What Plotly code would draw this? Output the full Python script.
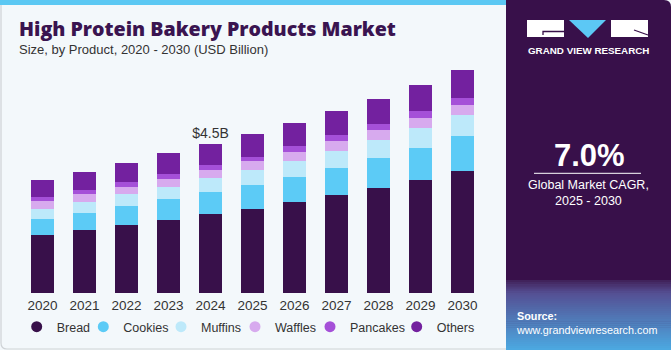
import plotly.graph_objects as go

W, H = 671, 350

years = ["2020", "2021", "2022", "2023", "2024", "2025", "2026", "2027", "2028", "2029", "2030"]
bread    = [1.75, 1.90, 2.05, 2.21, 2.38, 2.55, 2.74, 2.95, 3.18, 3.41, 3.68]
cookies  = [0.49, 0.53, 0.57, 0.62, 0.66, 0.71, 0.76, 0.83, 0.90, 0.97, 1.05]
muffins  = [0.31, 0.33, 0.37, 0.37, 0.42, 0.45, 0.48, 0.51, 0.53, 0.59, 0.63]
waffles  = [0.22, 0.22, 0.22, 0.25, 0.25, 0.26, 0.28, 0.28, 0.30, 0.30, 0.30]
pancakes = [0.12, 0.14, 0.13, 0.14, 0.15, 0.14, 0.16, 0.18, 0.18, 0.21, 0.21]
others   = [0.51, 0.54, 0.58, 0.62, 0.64, 0.68, 0.70, 0.73, 0.77, 0.80, 0.86]

series_names = ["Bread", "Cookies", "Muffins", "Waffles", "Pancakes", "Others"]
series_vals = [bread, cookies, muffins, waffles, pancakes, others]
series_colors = ["#38104a", "#5ccbf6", "#bde9fa", "#d7aaee", "#a550d8", "#73219f"]

label_year = "2024"
label_text = "$4.5B"

BG = "#f3f8fb"
DARK = "#38104a"


def px(x):
    return x / W


def py(y):
    return 1 - y / H


fig = go.Figure()

idx = years.index(label_year)
top_text = ["" for _ in years]
top_text[idx] = label_text

for k, (name, vals, col) in enumerate(zip(series_names, series_vals, series_colors)):
    is_top = k == len(series_names) - 1
    fig.add_trace(go.Bar(
        x=years, y=vals, name=name, marker=dict(color=col, line=dict(width=0)),
        showlegend=False, hoverinfo="x+y+name",
        text=top_text if is_top else None,
        textposition="outside" if is_top else "none",
        constraintext="none",
        textfont=dict(family="Liberation Sans", size=14, color="#333333"),
        cliponaxis=False,
    ))

legend_marker_x = [41.7, 108.3, 186, 260, 335, 421.7]
legend_layouts = {}
for i, (name, col) in enumerate(zip(series_names, series_colors)):
    lname = "legend" if i == 0 else f"legend{i + 1}"
    fig.add_trace(go.Scatter(
        x=[years[0]], y=[None], mode="markers", name=name,
        marker=dict(color=col, size=11, symbol="circle"),
        showlegend=True, legend=lname, hoverinfo="skip",
    ))
    legend_layouts[lname] = dict(
        orientation="h", x=px(legend_marker_x[i] - 25), xanchor="left",
        y=py(327), yanchor="middle",
        font=dict(family="Liberation Sans", size=12.5, color="#333333"),
        bgcolor="rgba(0,0,0,0)", borderwidth=0, itemclick=False, itemdoubleclick=False,
    )

shapes = []
# background of left panel with border
shapes.append(dict(type="path", xref="paper", yref="paper",
                   path=f"M {px(1)},{py(4)} L {px(1)},{py(343)} Q {px(1)},{py(349)} {px(7)},{py(349)} L {px(520)},{py(349)} L {px(520)},{py(4)} Z",
                   fillcolor=BG, line=dict(color="#cfd3d6", width=1.2), layer="below"))
# top blue strip
shapes.append(dict(type="rect", xref="paper", yref="paper",
                   x0=0, x1=px(508), y0=py(5), y1=1,
                   fillcolor="#5bc8f3", line=dict(width=0), layer="below"))
# right dark panel
shapes.append(dict(type="path", xref="paper", yref="paper",
                   path=f"M {px(506)},{py(0)} L {px(664)},{py(0)} Q {px(671)},{py(0)} {px(671)},{py(7)} L {px(671)},{py(350)} L {px(506)},{py(350)} Z",
                   fillcolor=DARK, line=dict(width=0), layer="below"))
# gradient at bottom of right panel
c0 = (0x40, 0x20, 0x58)
c1 = (0x55, 0x4e, 0x92)
c2 = (0x4c, 0xaa, 0xe2)
n = 34
y_start, y_mid, y_end = 280, 292, 350
for i in range(n):
    ya = y_start + (y_end - y_start) * i / n
    yb = y_start + (y_end - y_start) * (i + 1) / n
    t = (ya + yb) / 2
    if t < y_mid:
        f = (t - y_start) / (y_mid - y_start)
        c = [int(c0[k] + (c1[k] - c0[k]) * f) for k in range(3)]
    else:
        f = (t - y_mid) / (y_end - y_mid)
        c = [int(c1[k] + (c2[k] - c1[k]) * f) for k in range(3)]
    shapes.append(dict(type="rect", xref="paper", yref="paper",
                       x0=px(506), x1=1, y0=py(yb + 0.5), y1=py(ya),
                       fillcolor="rgb(%d,%d,%d)" % tuple(c), line=dict(width=0), layer="below"))
# logo
shapes.append(dict(type="rect", xref="paper", yref="paper",
                   x0=px(527), x1=px(564), y0=py(37), y1=py(20),
                   fillcolor="white", line=dict(width=0)))
shapes.append(dict(type="path", xref="paper", yref="paper",
                   path=f"M {px(543)},{py(35)} L {px(543)},{py(31.5)} L {px(564)},{py(31.5)}",
                   line=dict(color=DARK, width=1.3)))
shapes.append(dict(type="path", xref="paper", yref="paper",
                   path=f"M {px(569)},{py(20)} L {px(606)},{py(20)} L {px(588)},{py(38)} Z",
                   fillcolor="#5cc8f5", line=dict(width=0)))
shapes.append(dict(type="rect", xref="paper", yref="paper",
                   x0=px(611), x1=px(648), y0=py(37), y1=py(20),
                   fillcolor="white", line=dict(width=0)))
shapes.append(dict(type="line", xref="paper", yref="paper",
                   x0=px(634), y0=py(30), x1=px(648), y1=py(35),
                   line=dict(color=DARK, width=1.3)))
# CAGR divider line
shapes.append(dict(type="line", xref="paper", yref="paper",
                   x0=px(534), x1=px(641), y0=py(173.3), y1=py(173.3),
                   line=dict(color="white", width=1)))

annotations = [
    dict(text="High Protein Bakery Products Market", xref="paper", yref="paper",
         x=px(16.5), y=py(29), xanchor="left", yanchor="middle", showarrow=False,
         font=dict(family="Open Sans", size=19.6, color="#3a1450", weight=800)),
    dict(text="Size, by Product, 2020 - 2030 (USD Billion)", xref="paper", yref="paper",
         x=px(16.5), y=py(50), xanchor="left", yanchor="middle", showarrow=False,
         font=dict(family="Liberation Sans", size=13, color="#333333")),
    dict(text="<b>GRAND VIEW RESEARCH</b>", xref="paper", yref="paper",
         x=px(588), y=py(50.5), xanchor="center", yanchor="middle", showarrow=False,
         font=dict(family="Liberation Sans", size=9.8, color="white")),
    dict(text="<b>7.0%</b>", xref="paper", yref="paper",
         x=px(589), y=py(155), xanchor="center", yanchor="middle", showarrow=False,
         font=dict(family="Liberation Sans", size=31, color="white")),
    dict(text="Global Market CAGR,<br>2025 - 2030", xref="paper", yref="paper",
         x=px(588), y=py(193), xanchor="center", yanchor="middle", showarrow=False,
         font=dict(family="Liberation Sans", size=12.5, color="white")),
    dict(text="<b>Source:</b><br>www.grandviewresearch.com", xref="paper", yref="paper",
         x=px(514), y=py(323), xanchor="left", yanchor="middle", align="left", showarrow=False,
         font=dict(family="Liberation Sans", size=10.8, color="white")),
]

ppb = 33.24  # pixels per billion
base = 293.3
ymax = 7.0
fig.update_layout(
    width=W, height=H,
    margin=dict(l=0, r=0, t=0, b=0),
    paper_bgcolor=BG, plot_bgcolor="rgba(0,0,0,0)",
    barmode="stack", bargap=0.452,
    shapes=shapes, annotations=annotations,
    xaxis=dict(type="category", categoryorder="array", categoryarray=years,
               range=[-0.5, len(years) - 0.5], domain=[px(21.5), px(483.5)],
               showgrid=False, showline=False, ticks="", zeroline=False,
               ticklabelstandoff=2,
               tickfont=dict(family="Liberation Sans", size=13.5, color="#333333")),
    yaxis=dict(domain=[py(base), py(base - ymax * ppb)], range=[0, ymax],
               visible=False, showgrid=False, zeroline=False),
    showlegend=True,
    **legend_layouts,
)

fig.write_html("out.html")
